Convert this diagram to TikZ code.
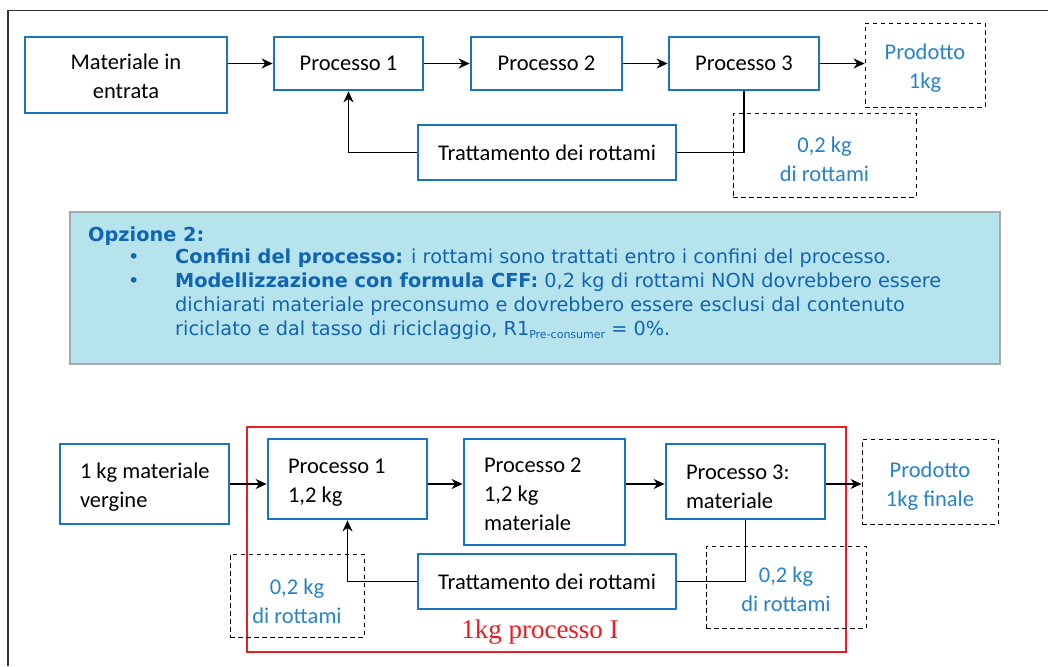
\documentclass[tikz,border=0pt]{standalone}
\usepackage{fontspec}
\setmainfont{Carlito}
\newfontfamily\verd{DejaVu Sans}
\newfontfamily\serifr{Liberation Serif}
\usetikzlibrary{arrows.meta}
\definecolor{boxblue}{RGB}{24,117,190}
\definecolor{txtblue}{RGB}{40,130,200}
\definecolor{optblue}{RGB}{16,100,180}
\definecolor{cyanfill}{RGB}{183,228,236}
\definecolor{cyanedge}{RGB}{165,170,172}
\definecolor{redline}{RGB}{235,28,36}
\definecolor{framegray}{RGB}{50,50,50}
\newcommand\topstrut[1]{\rule{0pt}{#1}}
\begin{document}
\begin{tikzpicture}[x=1pt,y=-1pt,
 every node/.style={inner sep=0pt, font=\fontsize{22.5}{29}\selectfont},
 procbox/.style={draw=boxblue, line width=2.8pt, fill=white},
 cbox/.style={procbox, align=center},
 lbox/.style={procbox, align=flush left, inner xsep=20pt},
 dbox/.style={draw=black, dash pattern=on 4.5pt off 3.5pt, line width=0.9pt, align=center, text=txtblue},
 conn/.style={line width=1.4pt},
 arr/.style={conn, -{Stealth[length=11pt,width=10pt,inset=3.5pt]}},
 opttext/.style={anchor=base west, text=optblue, font=\verd\fontsize{19.3}{24}\selectfont},
]
\useasboundingbox (0,0) rectangle (1048,666);
\draw[line width=1.5pt, framegray] (8,666) -- (8,10.5) -- (1048,10.5);

% ---- top diagram ----
\node[cbox, minimum width=202pt, minimum height=76pt] (mat) at (126,75) {\topstrut{19pt}Materiale in\\entrata};
\node[cbox, minimum width=149pt, minimum height=53pt] (p1) at (348.5,63.5) {Processo 1};
\node[cbox, minimum width=151pt, minimum height=53pt] (p2) at (546.5,63.5) {Processo 2};
\node[cbox, minimum width=150pt, minimum height=53pt] (p3) at (744,63.5) {Processo 3};
\node[dbox, minimum width=120pt, minimum height=84pt] (prod) at (925,65) {\topstrut{22pt}Prodotto\\1kg};
\node[dbox, minimum width=183pt, minimum height=84pt] (scrap) at (824.5,155) {\topstrut{25pt}0,2 kg\\di rottami};
\node[cbox, minimum width=258pt, minimum height=55pt] (tratt) at (547,152.5) {Trattamento dei rottami};

\draw[arr] (mat.east |- p1.west) -- (p1.west);
\draw[arr] (p1.east) -- (p2.west);
\draw[arr] (p2.east) -- (p3.west);
\draw[arr] (p3.east) -- (prod.west |- p3.east);
\draw[conn] (p3.south) -- (p3.south |- tratt.east) -- (tratt.east);
\draw[arr] (tratt.west) -| (p1.south);

% ---- option box ----
\node[draw=cyanedge, fill=cyanfill, line width=1.5pt, minimum width=930pt, minimum height=152pt] (opt) at (535,288) {};
\node[opttext] (o1) at (88,241) {\bfseries Opzione 2:};
\node[opttext] (b1) at (128,263) {•};
\node[opttext] (o2) at (175,263) {\textbf{Confini del processo:} i rottami sono trattati entro i confini del processo.};
\node[opttext] (b2) at (128,287) {•};
\node[opttext] (o3) at (175,287) {\textbf{Modellizzazione con formula CFF:} 0,2 kg di rottami NON dovrebbero essere};
\node[opttext] (o4) at (175,311) {dichiarati materiale preconsumo e dovrebbero essere esclusi dal contenuto};
\node[opttext] (o5) at (175,335) {riciclato e dal tasso di riciclaggio, R1\raisebox{-3.5pt}{\fontsize{11}{11}\selectfont Pre-consumer} = 0\%.};

% ---- bottom diagram ----
\node[draw=redline, line width=2.2pt, minimum width=599pt, minimum height=225pt] (bound) at (546.5,539.5) {};
\node[lbox, text width=129pt, minimum height=80pt] (virg) at (144.5,484) {\topstrut{21pt}\mbox{1 kg materiale}\\vergine};
\node[lbox, text width=119pt, minimum height=80pt] (q1) at (347.5,479) {\topstrut{22pt}Processo 1\\1,2 kg};
\node[lbox, text width=121pt, minimum height=106pt] (q2) at (544.5,492) {\topstrut{19pt}Processo 2\\1,2 kg\\materiale};
\node[lbox, text width=119pt, minimum height=75pt] (q3) at (745.5,481.5) {\topstrut{25pt}Processo 3:\\materiale};
\node[dbox, minimum width=136pt, minimum height=85pt] (prod2) at (930,481.5) {\topstrut{25pt}Prodotto\\1kg finale};
\node[dbox, minimum width=134pt, minimum height=83pt] (sL) at (297,595.5) {\topstrut{27pt}0,2 kg\\di rottami};
\node[dbox, minimum width=160pt, minimum height=82pt] (sR) at (786,587) {\topstrut{21pt}0,2 kg\\di rottami};
\node[cbox, minimum width=258pt, minimum height=55pt] (tr2) at (547,581.5) {Trattamento dei rottami};
\node[text=redline, font=\serifr\fontsize{27}{30}\selectfont] (lab) at (540,632) {1kg processo I};

\draw[arr] (virg.east) -- (virg.east -| q1.west);
\draw[arr] (q1.east |- virg.east) -- (q2.west |- virg.east);
\draw[arr] (q2.east |- virg.east) -- (q3.west |- virg.east);
\draw[arr] (q3.east |- virg.east) -- (prod2.west |- virg.east);
\draw[conn] (q3.south) -- (q3.south |- tr2.east) -- (tr2.east);
\draw[arr] (tr2.west) -| (q1.south);
\end{tikzpicture}
\end{document}
